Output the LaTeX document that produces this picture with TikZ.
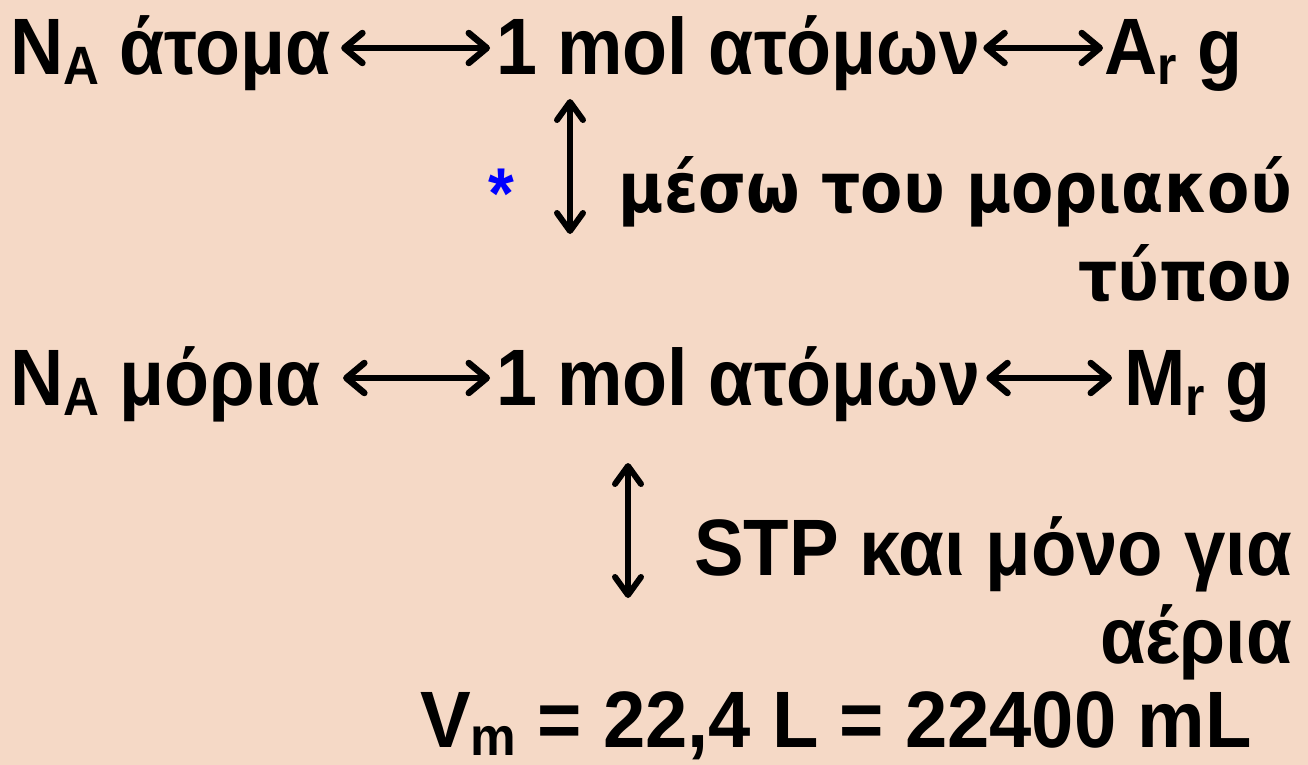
\documentclass[tikz,border=0pt]{standalone}
\usepackage{fontspec}
\setmainfont{Liberation Sans}
\newfontfamily\fA{Liberation Sans}[FakeStretch=0.92]
\newfontfamily\fS{Liberation Sans}[FakeStretch=0.93]
\newfontfamily\fV{Liberation Sans}[FakeStretch=0.95]
\newfontfamily\fB{DejaVu Sans}[FakeStretch=0.88]
\usetikzlibrary{arrows.meta}
\definecolor{bgc}{RGB}{245,217,198}
\definecolor{starblue}{RGB}{0,0,255}
\newcommand{\sbs}[1]{\raisebox{-10pt}{\fontsize{54}{54}\selectfont #1}}
\newcommand{\sbm}[1]{\raisebox{-8pt}{\fontsize{54}{54}\selectfont #1}}
\begin{document}
\begin{tikzpicture}[x=1pt,y=1pt,
  big/.style={inner sep=0pt, font=\fA\bfseries\fontsize{80}{90}\selectfont},
  mid/.style={inner sep=0pt, font=\fS\bfseries\fontsize{80}{90}\selectfont},
  dv/.style={inner sep=0pt, font=\fB\bfseries\fontsize{70}{80}\selectfont},
  dbl/.style={line width=6.5pt, {Straight Barb[length=18pt,width=30pt,line cap=round,line join=round]}-{Straight Barb[length=18pt,width=30pt,line cap=round,line join=round]}},
  vdbl/.style={line width=6pt, {Straight Barb[length=18pt,width=26pt,line cap=round,line join=round]}-{Straight Barb[length=18pt,width=26pt,line cap=round,line join=round]}}]
\useasboundingbox (0,0) rectangle (1308,-765);
\fill[bgc] (0,0) rectangle (1308,-765);
% row 1
\node[big, anchor=base west] (n1) at (10,-75) {N\sbs{A} άτομα};
\node[big, anchor=base west] (n2) at (496,-75) {1 mol ατόμων};
\node[big, anchor=base west] (n3) at (1104,-75) {A\sbs{r} g};
\draw[dbl] ([xshift=10pt,yshift=27pt]n1.base east) -- ([xshift=-6pt,yshift=27pt]n2.base west);
\draw[dbl] ([xshift=3pt,yshift=27pt]n2.base east) -- ([xshift=-1pt,yshift=27pt]n3.base west);
% middle 1
\coordinate (v1t) at (570,-99);
\coordinate (v1b) at (570,-234);
\draw[vdbl] (v1t) -- (v1b);
\node[inner sep=0pt, text=starblue, font=\fA\bfseries\fontsize{72}{72}\selectfont, anchor=base] (star) at (501,-218) {*};
\node[dv, anchor=base east] (via1) at (1292,-212) {μέσω του μοριακού};
\node[dv, anchor=base east] (via2) at (1292,-300) {τύπου};
% row 2
\node[big, anchor=base west] (m1) at (10,-405) {N\sbs{A} μόρια};
\node[big, anchor=base west] (m2) at (496,-405) {1 mol ατόμων};
\node[big, anchor=base west] (m3) at (1124,-405) {M\sbs{r} g};
\draw[dbl] ([xshift=22pt,yshift=27pt]m1.base east) -- ([xshift=-6pt,yshift=27pt]m2.base west);
\draw[dbl] ([xshift=6pt,yshift=27pt]m2.base east) -- ([xshift=-12pt,yshift=27pt]m3.base west);
% middle 2
\coordinate (v2t) at (628,-463);
\coordinate (v2b) at (628,-598);
\draw[vdbl] (v2t) -- (v2b);
\node[mid, anchor=base east] (stp1) at (1292,-575) {STP και μόνο για};
\node[mid, anchor=base east] (stp2) at (1292,-663) {αέρια};
% bottom
\node[inner sep=0pt, font=\fV\bfseries\fontsize{80}{90}\selectfont, anchor=base west] (vm) at (420,-747) {V\sbm{m} = 22,4 L = 22400 mL};
\end{tikzpicture}
\end{document}
